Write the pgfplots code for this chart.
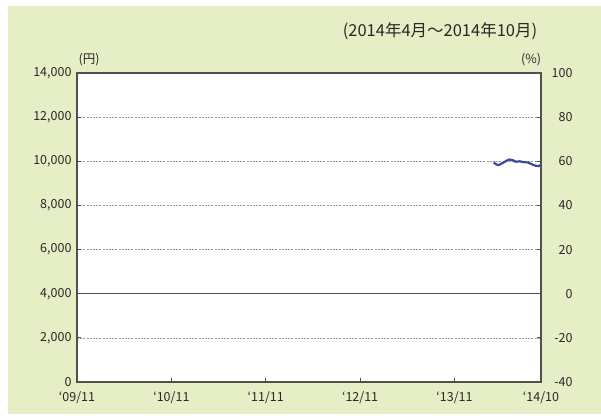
\documentclass[border=0pt]{standalone}
\usepackage{pgfplots}
\pgfplotsset{compat=1.18}
\usepackage{fontspec}
\setmainfont{Noto Sans CJK JP}
\definecolor{bgreen}{RGB}{229,238,196}
\definecolor{axgray}{RGB}{80,80,80}
\definecolor{txt}{RGB}{40,40,40}
\definecolor{lineblue}{RGB}{60,72,160}
\begin{document}
\begin{tikzpicture}[x=1pt,y=1pt,font=\fontsize{12.5}{14}\selectfont]
\useasboundingbox (0,0) rectangle (601,418);
\fill[bgreen] (8,4) rectangle (601,412);
\begin{axis}[
  at={(77pt,36pt)}, anchor=south west,
  scale only axis, width=464pt, height=309pt,
  xmin=0, xmax=59, ymin=0, ymax=14000,
  axis background/.style={fill=white},
  xtick={0,12,24,36,48,59},
  xticklabels={‘09/11,‘10/11,‘11/11,‘12/11,‘13/11,‘14/10},
  ytick={0,2000,4000,6000,8000,10000,12000,14000},
  scaled y ticks=false,
  /pgf/number format/.cd, 1000 sep={,}, assume math mode=true, /pgfplots/.cd,
  xtick pos=bottom, ytick pos=left,
  tick align=inside, major tick length=4pt,
  tick style={axgray, line width=1pt},
  axis line style={axgray, line width=1.3pt},
  ymajorgrids,
  grid style={gray!80, dash pattern=on 2pt off 1.2pt, line width=0.6pt},
  ticklabel style={txt},
  xticklabel style={yshift=-6pt},
  yticklabel style={xshift=-2pt},
]
\draw[axgray, line width=1.2pt] (axis cs:0,4000) -- (axis cs:59,4000);
\addplot[lineblue, line width=2.2pt, smooth] coordinates {
(53.0,9950) (53.3,9860) (53.6,9830) (54.0,9900) (54.5,10000) (55.0,10080)
(55.4,10050) (55.8,9980) (56.3,10000) (56.8,9960) (57.3,9950) (57.8,9870)
(58.3,9800) (58.7,9780) (59.0,9850)};
\end{axis}
\begin{axis}[
  at={(77pt,36pt)}, anchor=south west,
  scale only axis, width=464pt, height=309pt,
  xmin=0, xmax=59, ymin=-40, ymax=100,
  ytick={-40,-20,0,20,40,60,80,100},
  hide x axis,
  axis y line*=right,
  /pgf/number format/.cd, assume math mode=true, /pgfplots/.cd,
  tick align=inside, major tick length=4pt,
  tick style={axgray, line width=1pt},
  axis line style={axgray, line width=1.3pt},
  ticklabel style={txt},
  yticklabel style={anchor=east, xshift=35pt},
]
\end{axis}
\node[txt, font=\fontsize{16.5}{18}\selectfont] at (440,387) {(2014年4月～2014年10月)};
\node[txt] at (89,358) {(円)};
\node[txt] at (531,358) {(\%)};
\end{tikzpicture}
\end{document}
